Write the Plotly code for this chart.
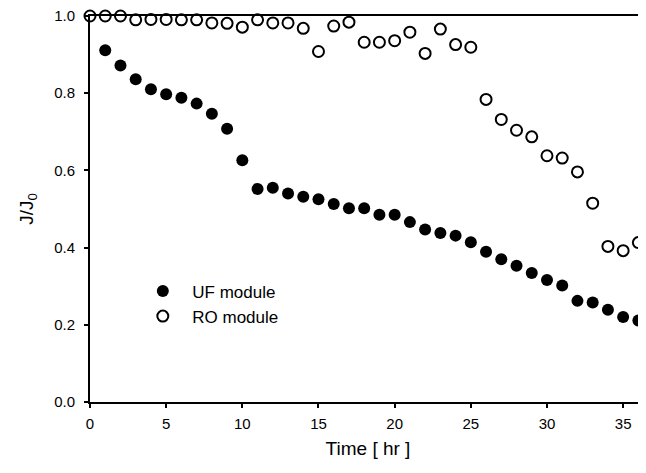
import plotly.graph_objects as go

CHART_FONT = "Arial"

# Time (hr)
time_uf = list(range(1, 37))
time_ro = list(range(0, 37))

# Normalised flux J/J0
flux_uf = [0.911, 0.872, 0.836, 0.810, 0.797, 0.788, 0.773, 0.747, 0.708, 0.626,
           0.552, 0.555, 0.540, 0.532, 0.525, 0.513, 0.502, 0.502, 0.485, 0.485,
           0.466, 0.447, 0.438, 0.431, 0.414, 0.389, 0.370, 0.353, 0.334, 0.316,
           0.302, 0.262, 0.258, 0.239, 0.220, 0.211]
flux_ro = [1.000, 1.000, 1.000, 0.990, 0.991, 0.991, 0.990, 0.990, 0.982, 0.981,
           0.971, 0.990, 0.982, 0.982, 0.968, 0.908, 0.974, 0.984, 0.932, 0.932,
           0.936, 0.958, 0.903, 0.966, 0.926, 0.919, 0.784, 0.732, 0.704, 0.687,
           0.638, 0.632, 0.596, 0.515, 0.403, 0.392, 0.413]

x_ticks = [0, 5, 10, 15, 20, 25, 30, 35]
y_ticks = [0.0, 0.2, 0.4, 0.6, 0.8, 1.0]

NBSP = "\u00a0\u00a0"

fig = go.Figure()

fig.add_trace(go.Scatter(
    x=time_uf, y=flux_uf, mode="markers", name=NBSP + "UF module",
    marker=dict(symbol="circle", size=12, color="black"),
    cliponaxis=False,
))

fig.add_trace(go.Scatter(
    x=time_ro, y=flux_ro, mode="markers", name=NBSP + "RO module",
    marker=dict(symbol="circle", size=11, color="white",
                line=dict(color="black", width=2)),
    cliponaxis=False,
))

# page body has an 8px margin, so the figure is sized to fit the window
fig.update_layout(
    width=638, height=465,
    margin=dict(l=82, r=0, t=8, b=71, autoexpand=False),
    paper_bgcolor="white",
    plot_bgcolor="white",
    font=dict(family=CHART_FONT, color="black", size=15),
    showlegend=True,
    legend=dict(x=0.095, y=0.333, xanchor="left", yanchor="top",
                bgcolor="rgba(0,0,0,0)", font=dict(size=17, color="black"),
                itemsizing="trace", tracegroupgap=0),
)

fig.update_xaxes(
    range=[0, 36.5], tickvals=x_ticks, ticktext=[str(v) for v in x_ticks],
    showline=True, linecolor="black", linewidth=2, mirror=True,
    ticks="outside", ticklen=4, tickwidth=1.5, tickcolor="black",
    ticklabelstandoff=3, ticklabeloverflow="allow",
    showgrid=False, zeroline=False, automargin=False,
    title=dict(text="Time [ hr ]", font=dict(size=19, color="black"), standoff=11),
)

fig.update_yaxes(
    range=[0, 1.0], tickvals=y_ticks, ticktext=[f"{v:.1f}" for v in y_ticks],
    showline=True, linecolor="black", linewidth=2,
    ticks="outside", ticklen=4, tickwidth=1.5, tickcolor="black",
    ticklabelstandoff=6, ticklabeloverflow="allow",
    showgrid=False, zeroline=False, automargin=False,
    title=dict(text="J/J<sub>0</sub>", font=dict(size=19, color="black"), standoff=15),
)

fig.write_html("out.html")
